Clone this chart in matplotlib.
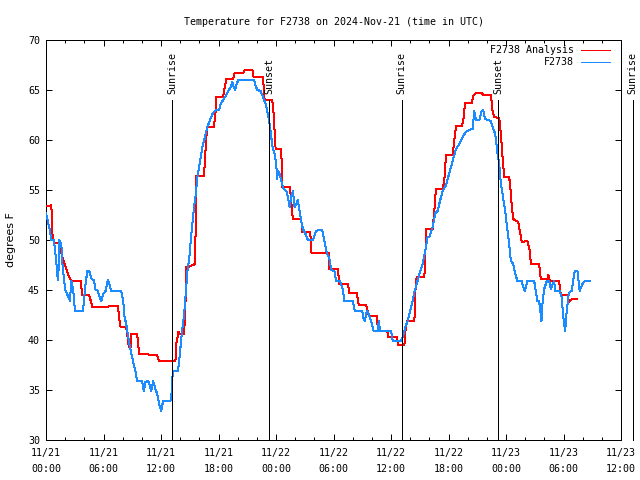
import datetime as dt
import numpy as np
import matplotlib
matplotlib.use("Agg")
import matplotlib.pyplot as plt
from matplotlib.ticker import FixedLocator, MultipleLocator

# ---------------- data (hours since 2024-11-21 00:00 UTC) ----------------
title = "Temperature for F2738 on 2024-Nov-21 (time in UTC)"
ylabel = "degrees F"
series_names = ["F2738 Analysis", "F2738"]

analysis_hours = [0.0, 0.49, 0.56, 0.66, 0.83, 1.39, 1.53, 1.7, 1.88, 2.05, 2.29, 2.5, 2.74, 3.61,
                  3.78, 4.51, 4.83, 5.63, 7.5, 7.67, 7.78, 8.37, 8.65, 8.85, 8.92, 9.51, 9.72, 10.66,
                  10.73, 11.6, 11.77, 13.51, 13.54, 13.72, 13.82, 13.96, 14.41, 14.51, 14.58, 14.65,
                  14.83, 15.56, 15.69, 16.49, 16.67, 16.81, 17.5, 17.6, 17.71, 17.78, 18.47, 18.82,
                  19.51, 19.69, 20.56, 20.73, 21.53, 21.67, 22.64, 22.81, 23.61, 23.75, 23.96, 24.55,
                  24.65, 25.42, 25.52, 25.76, 26.63, 26.74, 27.57, 27.71, 29.51, 29.58, 30.45, 30.62,
                  31.49, 31.67, 32.43, 32.64, 33.4, 33.68, 34.51, 34.65, 35.59, 35.73, 36.6, 36.74,
                  37.4, 37.5, 37.65, 38.44, 38.54, 38.68, 39.48, 39.58, 39.65, 40.35, 40.52, 40.69,
                  41.39, 41.56, 41.74, 42.43, 42.6, 42.78, 43.4, 43.54, 43.72, 44.44, 44.58, 44.86,
                  45.45, 45.63, 46.42, 46.6, 46.77, 47.29, 47.47, 47.64, 47.81, 48.26, 48.4, 48.61,
                  48.75, 49.1, 49.27, 49.44, 49.65, 50.24, 50.49, 50.59, 51.46, 51.63, 52.33, 52.43,
                  52.57, 53.54, 53.72, 54.41, 54.58, 54.86, 55.45]
analysis_temps = [53.4, 53.4, 53.5, 50.6, 49.7, 49.7, 49.1, 48.3, 47.8, 47.3, 46.6, 46.1, 45.9, 45.9,
                  44.5, 44.5, 43.3, 43.3, 43.4, 41.9, 41.3, 41.3, 39.3, 39.3, 40.6, 40.6, 38.6, 38.6,
                  38.5, 38.5, 37.9, 37.9, 39.3, 40.3, 40.8, 40.6, 40.6, 42.6, 44.4, 47.3,
                  47.3, 47.6, 56.4, 56.4, 59.4, 61.3, 61.3, 62.0, 62.9, 64.3, 64.3, 66.1,
                  66.1, 66.7, 66.7, 67.0, 67.0, 66.3, 66.3, 64.0, 64.0, 62.6, 59.1, 59.1,
                  55.3, 55.3, 54.6, 52.1, 52.1, 50.8, 50.8, 48.7, 48.7, 47.1, 47.1, 45.6,
                  45.6, 44.7, 44.7, 43.5, 43.5, 42.4, 42.4, 40.9, 40.9, 40.3, 40.3, 39.5,
                  39.5, 40.9, 41.9, 41.9, 44.9, 46.3, 46.3, 48.3, 51.1, 51.1, 52.9, 55.1,
                  55.1, 55.9, 58.5, 58.5, 59.9, 61.4, 61.4, 61.9, 63.7, 63.7, 64.4, 64.7,
                  64.7, 64.5, 64.5, 62.9, 62.3, 62.2, 60.6, 58.3, 56.3, 56.3, 55.9, 53.3,
                  52.1, 51.9, 51.8, 50.9, 49.8, 49.9, 48.9, 47.6, 47.6, 46.1, 46.1, 46.5,
                  45.9, 45.9, 44.5, 44.5, 43.8, 44.1, 44.1]

station_hours = [0.0, 0.21, 0.42, 0.56, 0.83, 0.94, 1.04, 1.18, 1.28, 1.39, 1.6, 1.7, 1.88, 2.05,
                 2.29, 2.5, 2.64, 2.85, 3.02, 3.85, 3.96, 4.1, 4.31, 4.51, 4.76, 5.0, 5.17, 5.35,
                 5.56, 5.76, 5.97, 6.22, 6.46, 6.6, 6.81, 7.85, 8.06, 8.19, 8.4, 8.58, 8.75, 8.92,
                 9.1, 9.31, 9.51, 10.03, 10.21, 10.38, 10.56, 10.73, 10.97, 11.18, 11.42, 11.6,
                 11.81, 12.01, 12.22, 12.99, 13.09, 13.19, 13.26, 13.78, 13.89, 14.17, 14.41, 14.58,
                 14.76, 14.86, 15.0, 15.1, 15.28, 15.45, 15.63, 15.8, 15.97, 16.15, 16.32, 16.49,
                 16.67, 16.84, 17.08, 17.36, 17.71, 18.06, 18.23, 18.47, 18.75, 19.03, 19.27, 19.44,
                 19.55, 19.72, 19.86, 20.07, 21.7, 21.88, 22.05, 22.4, 22.64, 22.92, 23.09, 23.26,
                 23.44, 23.61, 23.85, 24.03, 24.1, 24.24, 24.38, 24.55, 24.79, 25.07, 25.24, 25.42,
                 25.59, 25.76, 25.94, 26.11, 26.28, 26.46, 26.63, 26.81, 27.08, 27.33, 27.85, 28.13,
                 28.37, 28.82, 29.06, 29.24, 29.58, 29.76, 30.1, 30.28, 30.69, 30.97, 31.14, 32.01,
                 32.22, 32.99, 33.13, 33.26, 33.47, 33.68, 33.92, 34.2, 34.62, 34.72, 34.86, 36.0,
                 36.18, 37.05, 37.22, 37.5, 37.74, 37.99, 38.26, 38.47, 38.68, 38.96, 39.3, 39.58,
                 39.82, 40.0, 40.35, 40.63, 40.87, 41.11, 41.39, 41.74, 41.91, 42.15, 42.43, 42.78,
                 43.13, 43.47, 43.82, 44.17, 44.51, 44.69, 44.86, 45.21, 45.45, 45.63, 45.8, 46.08,
                 46.42, 46.6, 46.88, 47.12, 47.29, 47.47, 47.64, 47.92, 48.16, 48.33, 48.51, 48.75,
                 48.96, 49.2, 49.65, 49.79, 49.97, 50.24, 50.94, 51.11, 51.28, 51.46, 51.7, 51.8,
                 51.98, 52.26, 52.5, 52.67, 52.85, 53.02, 53.13, 53.61, 53.82, 53.96, 54.17, 54.31,
                 54.51, 54.65, 54.86, 55.0, 55.17, 55.45, 55.69, 55.97, 56.22, 56.74]
station_temps = [52.7, 51.8, 50.9, 50.0, 50.0, 48.9, 48.3, 46.4, 46.0, 50.0, 49.6, 47.8, 46.0, 44.9,
                 44.4, 43.9, 45.9, 44.9, 42.9, 42.9, 43.9, 45.4, 46.9, 46.9, 46.1, 46.0, 45.0, 45.0,
                 44.4, 43.9, 44.6, 44.9, 46.0, 45.6, 44.9, 44.9, 43.9, 42.4, 41.4, 40.3, 39.3, 38.6,
                 37.8, 37.0, 35.9, 35.9, 34.9, 35.8, 35.9, 35.8, 34.9, 35.9, 35.1, 34.6,
                 33.6, 32.9, 33.9, 33.9, 34.6, 36.3, 36.9, 36.9, 37.9, 40.6, 42.6, 44.6,
                 46.9, 47.6, 48.6, 49.9, 51.6, 53.3, 54.6, 56.3, 57.3, 58.3, 59.3, 59.9,
                 60.6, 61.3, 61.9, 62.6, 63.0, 63.0, 63.6, 64.0, 64.4, 64.9, 65.3, 65.8,
                 65.4, 65.0, 65.5, 66.0, 66.0, 65.4, 65.0, 64.9, 64.3, 63.6, 62.9, 62.1,
                 60.9, 59.4, 58.6, 57.6, 56.1, 56.9, 56.6, 55.9, 55.1, 54.9, 54.3, 53.3,
                 54.3, 54.9, 53.3, 53.6, 54.0, 52.9, 51.9, 51.1, 50.6, 50.0, 50.0, 50.8,
                 51.0, 51.0, 49.9, 48.9, 48.1, 47.0, 46.9, 45.9, 45.9, 45.1, 43.9, 43.9,
                 42.9, 42.9, 42.2, 41.9, 42.9, 42.6, 41.9, 40.9, 40.9, 41.9, 40.9, 40.9,
                 39.9, 39.9, 40.3, 41.3, 41.9, 42.9, 43.9, 44.9, 45.6, 46.6, 47.6, 48.9,
                 50.3, 50.3, 51.3, 52.7, 52.9, 53.9, 54.9, 55.5, 56.1, 56.9, 57.9, 59.1,
                 59.6, 60.3, 60.8, 61.0, 61.1, 62.9, 62.0, 62.0, 62.9, 63.0, 62.1, 62.0,
                 61.9, 61.3, 60.6, 58.6, 57.6, 55.6, 54.6, 52.9, 50.9, 49.6, 47.9, 47.6,
                 46.6, 45.9, 45.9, 45.3, 44.9, 45.9, 45.9, 44.9, 43.9, 43.9, 41.9, 43.6,
                 45.1, 45.9, 45.9, 45.1, 45.5, 45.9, 44.9, 44.9, 44.3, 42.4, 40.9, 42.6,
                 44.4, 44.8, 44.9, 45.9, 46.9, 46.9, 44.9, 45.6, 45.9, 45.9]

event_names = ["Sunrise", "Sunset", "Sunrise", "Sunset", "Sunrise"]
event_hours = [13.16, 23.26, 37.1, 47.2, 61.2]

x_ticks = list(range(0, 61, 6))
y_ticks = [30, 35, 40, 45, 50, 55, 60, 65, 70]
start = dt.datetime(2024, 11, 21, 0, 0)

# ---------------- style ----------------
MONO = "DejaVu Sans Mono"
FS = 7.2
PX = 0.72  # one pixel in points at 100 dpi
red = "#ff0000"
blue = "#1a8cff"

fig = plt.figure(figsize=(6.4, 4.8), dpi=100)
ax = fig.add_axes([46 / 640, 40 / 480, 575 / 640, 400 / 480])

ax.plot(analysis_hours, analysis_temps, color=red, lw=PX, antialiased=False, zorder=3)
ax.plot(station_hours, station_temps, color=blue, lw=PX, antialiased=False, zorder=4)

ax.set_xlim(0, 60)
ax.set_ylim(30, 70)

ax.xaxis.set_major_locator(FixedLocator(x_ticks))
ax.xaxis.set_minor_locator(MultipleLocator(2))
ax.set_xticklabels([(start + dt.timedelta(hours=h)).strftime("%m/%d\n%H:%M") for h in x_ticks],
                   family=MONO, fontsize=FS, linespacing=1.75)
ax.yaxis.set_major_locator(FixedLocator(y_ticks))
ax.set_yticklabels([str(v) for v in y_ticks], family=MONO, fontsize=FS)

ax.tick_params(which="major", direction="in", top=True, right=True, length=4.3, width=PX)
ax.tick_params(which="minor", direction="in", top=True, right=True, length=2.2, width=PX)
ax.tick_params(axis="x", which="major", pad=5.5)
ax.tick_params(axis="y", which="major", pad=4.3)
for s in ax.spines.values():
    s.set_linewidth(PX)
    s.set_color("black")
    s.set_antialiased(False)

# sunrise / sunset markers
for name, h in zip(event_names, event_hours):
    ln = ax.vlines(h, 30, 64, color="black", lw=PX, zorder=5)
    ln.set_clip_on(False)
    ln.set_antialiased(False)
    ax.text(h, 64.55, name, rotation=90, ha="center", va="bottom", family=MONO,
            fontsize=FS, clip_on=False)

# legend (gnuplot style: right-aligned text then sample line)
leg_rows = [0.97375, 0.94375]
for name, col, yy in zip(series_names, [red, blue], leg_rows):
    ax.text(0.918, yy, name, transform=ax.transAxes, ha="right", va="center",
            family=MONO, fontsize=FS)
    ax.plot([0.930, 0.981], [yy, yy], transform=ax.transAxes, color=col, lw=PX,
            antialiased=False, clip_on=False)

ax.set_title(title, family=MONO, fontsize=FS, pad=11)
ax.set_ylabel(ylabel, fontsize=8, family="DejaVu Sans")
ax.yaxis.set_label_coords((11 - 46) / 575, 0.5)
ax.yaxis.label.set_va("center")

fig.savefig("out.png", dpi=100)
